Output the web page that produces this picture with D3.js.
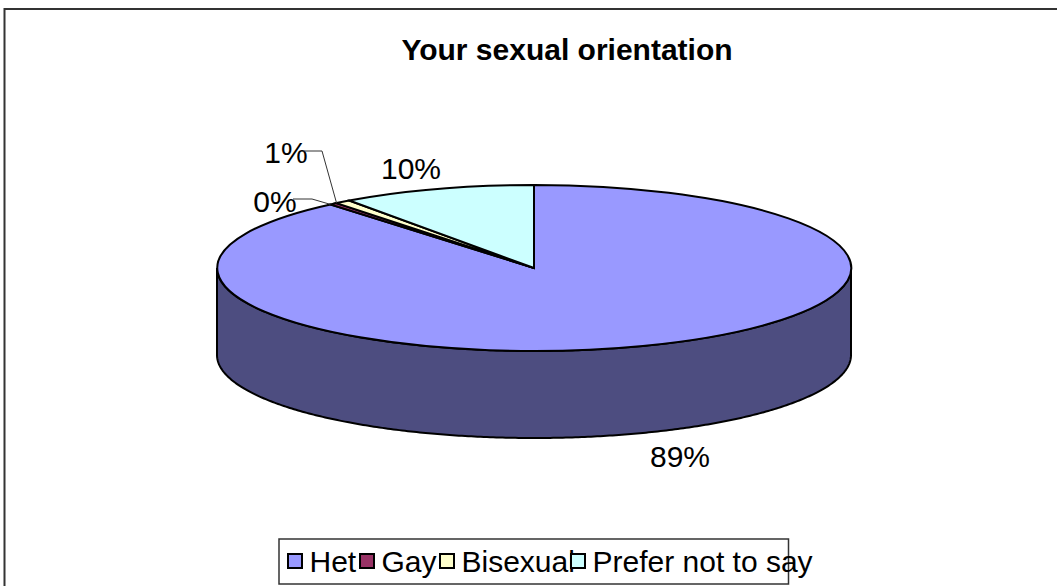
<html>
<head>
<script src="https://d3js.org/d3.v7.min.js"></script>
<style>
    body { margin: 0; background: #fff; }
    svg { display: block; }
    text { font-family: "Liberation Sans", Arial, sans-serif; fill: #000; }
</style>
</head>
<body>
<div id="chart"><svg width="1057" height="586"></svg></div>
<script>
var categories = ["Het", "Gay", "Bisexual", "Prefer not to say"];
var shares = [88.9, 0.4, 0.8, 9.9];
var colors = ["#9999ff", "#993366", "#ffffcc", "#ccffff"];
var wallColor = "#4d4d80";

var svg = d3.select("#chart svg");
var cx = 534, cy = 268, rx = 317, ry = 83, depth = 87;

// frame, only top and left show in the picture
svg.append("path").attr("d", "M4.5,586V9H1057").attr("fill", "none").attr("stroke", "#333").attr("stroke-width", 2);

svg.append("text").attr("x", 567).attr("y", 60).attr("text-anchor", "middle")
    .attr("font-size", 30).attr("font-weight", "bold").text("Your sexual orientation");

var pie = d3.pie().sort(null).value(function(d) { return d; });
var slices = pie(shares);

// maps pie angle (clockwise from 12 o'clock) on to the squashed disc
function px(a) { return cx + rx * Math.sin(a); }
function py(a) { return cy - ry * Math.cos(a); }

// side wall: only the part of each slice facing the viewer
slices.forEach(function(s, i) {
    var a0 = Math.max(s.startAngle, Math.PI / 2), a1 = Math.min(s.endAngle, 1.5 * Math.PI);
    if (a1 <= a0) return;
    var steps = d3.range(a0, a1, 0.01).concat([a1]);
    var top = steps.map(function(a) { return [px(a), py(a)]; });
    var bottom = steps.slice().reverse().map(function(a) { return [px(a), py(a) + depth]; });
    svg.append("path").attr("d", d3.line()(top.concat(bottom)) + "Z")
        .attr("fill", wallColor).attr("stroke", "#000").attr("stroke-width", 2);
});

// top face
var arc = d3.arc().innerRadius(0).outerRadius(1);
svg.append("g").attr("transform", "translate(" + cx + "," + cy + ") scale(" + rx + "," + ry + ")")
    .selectAll("path").data(slices).enter().append("path")
    .attr("d", arc)
    .attr("fill", function(d, i) { return colors[i]; })
    .attr("stroke", "#000").attr("stroke-width", 2)
    .attr("vector-effect", "non-scaling-stroke");

// data labels, placed by hand like the original
var labelX = [680, 275, 286, 411];
var labelY = [467, 212, 163, 179];
svg.selectAll("text.label").data(slices).enter().append("text").classed("label", true)
    .attr("x", function(d, i) { return labelX[i]; })
    .attr("y", function(d, i) { return labelY[i]; })
    .attr("text-anchor", "middle").attr("font-size", 30)
    .text(function(d) { return Math.round(d.value) + "%"; });

// leader lines for the two thin slices
var knees = { 1: [[293, 199], [312, 199]], 2: [[303, 151], [322, 151]] };
[1, 2].forEach(function(i) {
    var a = slices[i].startAngle;
    svg.append("path").attr("d", d3.line()(knees[i].concat([[px(a), py(a)]])))
        .attr("fill", "none").attr("stroke", "#333").attr("stroke-width", 1);
});

// legend
var legendX = [288, 360, 440, 571];
svg.append("rect").attr("x", 279).attr("y", 539).attr("width", 509.5).attr("height", 45)
    .attr("fill", "#fff").attr("stroke", "#333").attr("stroke-width", 1.5);
var legend = svg.selectAll("g.legend").data(categories).enter().append("g").classed("legend", true);
legend.append("text").attr("x", function(d, i) { return legendX[i] + 21.5; }).attr("y", 572)
    .attr("font-size", 30).text(function(d) { return d; });
legend.append("rect").attr("x", function(d, i) { return legendX[i]; }).attr("y", 554)
    .attr("width", 14).attr("height", 14)
    .attr("fill", function(d, i) { return colors[i]; }).attr("stroke", "#000").attr("stroke-width", 2);
</script>
</body>
</html>
